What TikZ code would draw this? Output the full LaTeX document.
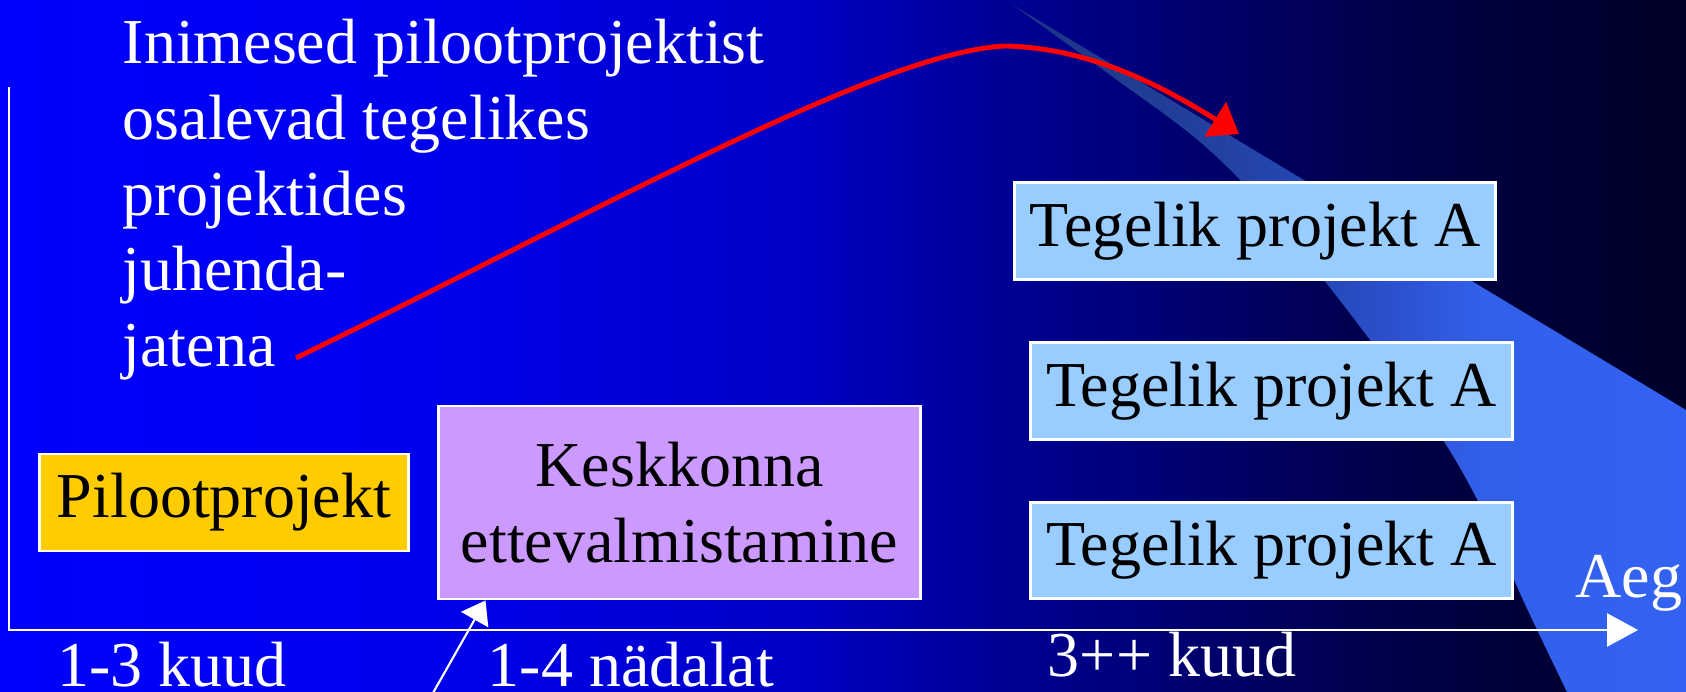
\documentclass[tikz,border=0pt]{standalone}
\usepackage{fontspec}
\setmainfont{Liberation Serif}
\usepackage{xcolor}
\usepackage{tikz}
\usetikzlibrary{arrows.meta}

\definecolor{pilotorange}{RGB}{255,204,0}
\definecolor{preplilac}{RGB}{204,153,255}
\definecolor{realblue}{RGB}{153,204,255}
\definecolor{curvered}{RGB}{255,0,0}

\pgfdeclarehorizontalshading{slidebg}{100bp}{rgb(0bp)=(0,0,1); rgb(25bp)=(0,0,1);
	rgb(37bp)=(0,0,0.94); rgb(48.5bp)=(0,0,0.78); rgb(54.5bp)=(0,0,0.59);
	rgb(63.5bp)=(0,0,0.35); rgb(69.5bp)=(0,0,0.23); rgb(75bp)=(0,0,0.16);
	rgb(100bp)=(0,0,0.16)}
\pgfdeclarehorizontalshading{slideband}{100bp}{rgb(0bp)=(0.11,0.2,0.53); rgb(25bp)=(0.11,0.2,0.53);
	rgb(31.5bp)=(0.12,0.23,0.55); rgb(47.8bp)=(0.145,0.28,0.71); rgb(53.8bp)=(0.176,0.32,0.82);
	rgb(59.7bp)=(0.196,0.376,0.918); rgb(75bp)=(0.2,0.384,0.95); rgb(100bp)=(0.2,0.384,0.95)}

\newcommand{\slidefont}{\fontsize{18.2pt}{21.6pt}\selectfont}

\begin{document}
\begin{tikzpicture}[
			x=0.01cm, y=-0.01cm,
			font=\slidefont,
			whitetext/.style={text=white, inner sep=0pt},
			timelbl/.style={text=white, inner sep=0pt, anchor=base},
			pilotbox/.style={rectangle, draw=white, line width=0.8pt, fill=pilotorange,
				text=black, inner sep=0pt, minimum width=3.68cm, minimum height=0.97cm},
			prepbox/.style={rectangle, draw=white, line width=0.8pt, fill=preplilac,
				text=black, inner sep=0pt, align=center, minimum width=4.81cm, minimum height=1.93cm},
			realbox/.style={rectangle, draw=white, line width=0.8pt, fill=realblue,
				text=black, inner sep=0pt, minimum width=4.81cm, minimum height=0.965cm},
			axisline/.style={draw=white, line width=0.8pt, -{Triangle[length=0.31cm,width=0.33cm]}},
			pointer/.style={draw=white, line width=0.6pt, -{Triangle[length=0.22cm,width=0.31cm]}},
			mentorcurve/.style={draw=curvered, line width=1.4pt, -{Triangle[length=0.28cm,width=0.4cm]}},
			]
			
			\path[use as bounding box] (0,0) rectangle (1686,692);
			\clip (0,0) rectangle (1686,692);
			\shade[shading=slidebg] (0,0) rectangle (1686,692);
			\shade[shading=slideband] plot[smooth, tension=0.6] coordinates {(1013,5) (1110,75)
				(1200,142) (1270,212) (1320,275) (1370,340) (1443,440) (1490,525) (1523,600) (1567,692)}
				-- (1686,692) -- (1686,410) -- cycle;
			
			\coordinate (ytop) at (9,87);
			\coordinate (origin) at (9,630);
			\coordinate (xend) at (1638,630);
			\draw[axisline] (ytop) -- (origin) -- (xend);
			
			\node[whitetext, anchor=north west, align=left] (mentors) at (122,18)
				{Inimesed pilootprojektist\\osalevad tegelikes\\projektides\\juhenda-\\jatena};
			
			\node[pilotbox] (pilot) at (224,502.5) {Pilootprojekt};
			\node[prepbox] (prep) at (679.5,502.5) {Keskkonna\\ettevalmistamine};
			\node[realbox] (realA) at (1255,231) {Tegelik projekt A};
			\node[realbox] (realB) at (1271.5,391) {Tegelik projekt A};
			\node[realbox] (realC) at (1271.5,550.5) {Tegelik projekt A};
			
			\node[timelbl] (pilottime) at (172,686) {1-3 kuud};
			\node[timelbl] (preptime) at (631,686) {1-4 nädalat};
			\node[timelbl] (realtime) at (1172,676) {3++ kuud};
			\node[timelbl] (aeg) at (1629,598) {Aeg};
			
			\coordinate (pointerfoot) at (429,700);
			\draw[pointer] (pointerfoot) -- ([xshift=0.48cm]prep.south west);
			
			\coordinate (curvestart) at (296,358);
			\coordinate (curveend) at (1239,134);
			\draw[mentorcurve] (curvestart) .. controls (600,210) and (880,52) .. (1005,46)
				.. controls (1090,48) and (1160,85) .. (curveend);
			
		\end{tikzpicture}
\end{document}
